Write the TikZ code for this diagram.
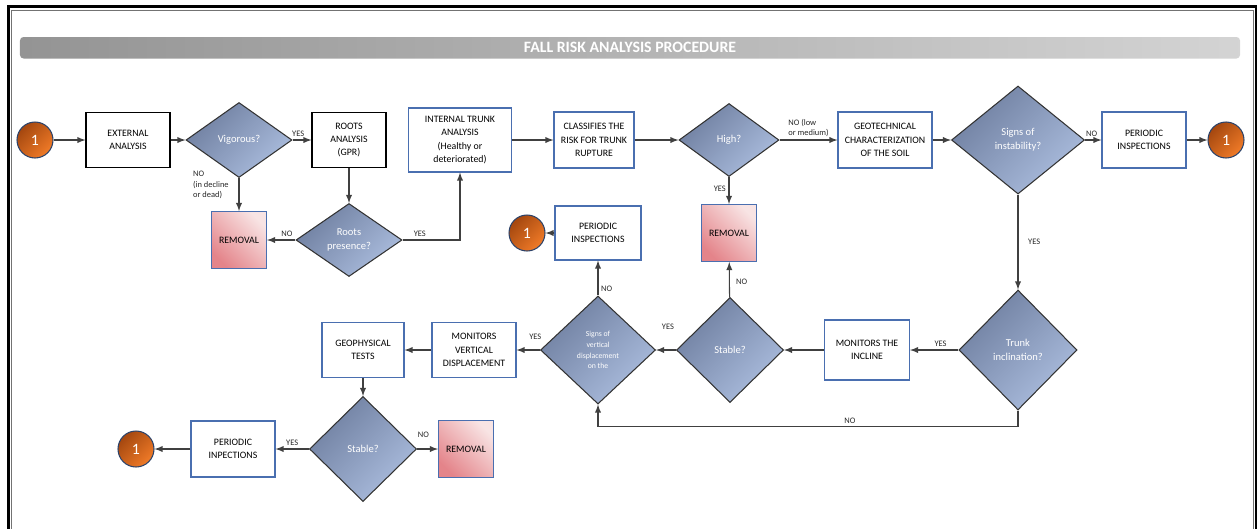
\documentclass[tikz,border=0pt]{standalone}
\usepackage{fontspec}
\setmainfont{Carlito}
\usetikzlibrary{positioning,shapes.geometric}
\usepackage{xcolor}
\definecolor{boxblue}{HTML}{4A6FB0}
\definecolor{diadark}{HTML}{6F7FA0}
\definecolor{dialight}{HTML}{ABBDDE}
\definecolor{remdark}{HTML}{E4848A}
\definecolor{remlight}{HTML}{F8E4E4}
\definecolor{orgdark}{HTML}{A4470F}
\definecolor{orglight}{HTML}{F07B28}
\definecolor{linegray}{HTML}{404040}

\begin{document}
\begin{tikzpicture}[-latex, color=linegray, line width=0.6pt,
	box/.style={rectangle, draw=boxblue, fill=white, text=black, minimum width=1.68cm, minimum height=1.1cm, align=center, inner sep=1pt, font=\fontsize{5.6}{7.6}\selectfont},
	decision/.style={diamond, draw=black!80, top color=diadark, bottom color=dialight, shading angle=45, text=white, align=center, inner sep=0pt, font=\fontsize{6}{7.8}\selectfont},
	removal/.style={rectangle, draw=boxblue, top color=remlight, bottom color=remdark, shading angle=-45, text=black, minimum width=1.1cm, minimum height=1.14cm, font=\fontsize{5.6}{7.6}\selectfont},
	onecirc/.style={circle, draw=boxblue!60!black, top color=orgdark, bottom color=orglight, shading angle=45, text=white, minimum size=0.72cm, inner sep=0pt, font=\fontsize{9}{9}\selectfont},
	lbl/.style={text=black!85, inner sep=1.5pt, font=\fontsize{4.8}{6}\selectfont}]
	\useasboundingbox (0,0) rectangle (25.2,-10.56);
	\draw[-, black, line width=1.6pt] (0.17,-11) |- (25.12,-0.13) -- (25.12,-11);
	\draw[-, black!55, line width=0.5pt] (0.235,-11) |- (25.06,-0.2) -- (25.06,-11);
	\shade[left color=black!42, right color=black!17, rounded corners=2pt] (0.4,-0.74) rectangle (24.8,-1.17);
	\node[text=white, font=\fontsize{9}{9}\selectfont\bfseries] (title) at (12.6,-0.95) {FALL RISK ANALYSIS PROCEDURE};

	\node[onecirc] (c1) at (0.7,-2.8) {1};
	\node[box, draw=black] (ext) [right of=c1, node distance=1.86cm] {EXTERNAL\\ANALYSIS};
	\node[decision, minimum width=2.12cm, minimum height=1.5cm] (vig) [right of=ext, node distance=2.22cm] {Vigorous?};
	\node[box, draw=black, minimum width=1.48cm] (roots) [right of=vig, node distance=2.2cm] {ROOTS\\ANALYSIS\\(GPR)};
	\node[box, minimum width=2.06cm, minimum height=1.28cm] (itr) [right of=roots, node distance=2.22cm] {INTERNAL TRUNK\\ANALYSIS\\(Healthy or\\deteriorated)};
	\node[box, minimum width=1.6cm, minimum height=1.12cm] (cls) [right of=itr, node distance=2.68cm] {CLASSIFIES THE\\RISK FOR TRUNK\\RUPTURE};
	\node[decision, minimum width=2cm, minimum height=1.46cm] (high) [right of=cls, node distance=2.7cm] {High?};
	\node[box, minimum width=1.88cm, minimum height=1.12cm] (geo) [right of=high, node distance=3.12cm] {GEOTECHNICAL\\CHARACTERIZATION\\OF THE SOIL};
	\node[decision, minimum width=2.66cm, minimum height=2.16cm] (sig) [right of=geo, node distance=2.66cm] {Signs of\\instability?};
	\node[box, minimum height=1.12cm] (pi1) [right of=sig, node distance=2.52cm] {PERIODIC\\INSPECTIONS};
	\node[onecirc] (c2) [right of=pi1, node distance=1.64cm] {1};

	\node[removal] (rem1) [below of=vig, node distance=2cm] {REMOVAL};
	\node[decision, minimum width=2.12cm, minimum height=1.46cm] (rp) [below of=roots, node distance=2cm] {Roots\\presence?};
	\node[removal] (rem2) [below of=high, node distance=1.86cm] {REMOVAL};
	\node[decision, minimum width=2.36cm, minimum height=2.4cm] (trunk) [below of=sig, node distance=4.2cm] {Trunk\\inclination?};
	\node[box, minimum width=1.7cm, minimum height=1.2cm] (mon) [left of=trunk, node distance=3.02cm] {MONITORS THE\\INCLINE};
	\node[decision, minimum width=2.14cm, minimum height=2.1cm] (stab1) [left of=mon, node distance=2.74cm] {Stable?};
	\node[decision, minimum width=2.3cm, minimum height=2.16cm, font=\fontsize{4.4}{6.2}\selectfont] (svd) [left of=stab1, node distance=2.64cm] {Signs of\\vertical\\displacement\\on the};
	\node[box, minimum width=1.72cm, minimum height=1.08cm] (pi2) [above of=svd, node distance=2.34cm] {PERIODIC\\INSPECTIONS};
	\node[onecirc] (c3) [left of=pi2, node distance=1.42cm] {1};
	\node[box] (mvd) [left of=svd, node distance=2.48cm] {MONITORS\\VERTICAL\\DISPLACEMENT};
	\node[box, minimum width=1.64cm] (gph) [left of=mvd, node distance=2.22cm] {GEOPHYSICAL\\TESTS};
	\node[decision, minimum width=2.14cm, minimum height=2.1cm] (stab2) [below of=gph, node distance=1.98cm] {Stable?};
	\node[box, minimum height=1.12cm] (pi3) [left of=stab2, node distance=2.6cm] {PERIODIC\\INPECTIONS};
	\node[onecirc] (c4) [left of=pi3, node distance=1.94cm] {1};
	\node[removal] (rem3) [right of=stab2, node distance=2.06cm] {REMOVAL};

	\path (c1) edge (ext);
	\path (ext) edge (vig);
	\path (vig) edge node[lbl, above, pos=0.3] {YES} (roots);
	\path (vig) edge (rem1);
	\node[lbl, align=left, anchor=north west] (vigno) at ([xshift=-0.98cm, yshift=0.2cm]vig.south) {NO\\(in decline\\or dead)};
	\path (roots) edge (rp);
	\path (rp) edge node[lbl, above, pos=0.3] {NO} (rem1);
	\draw (rp.east) -| node[lbl, above, pos=0.15] {YES} (itr.south);
	\path (itr) edge (cls);
	\path (cls) edge (high);
	\path (high) edge node[lbl, align=left, above] {NO (low\\or medium)} (geo);
	\path (high) edge node[lbl, left, pos=0.45] {YES} (rem2);
	\path (geo) edge (sig);
	\path (sig) edge node[lbl, above, pos=0.4] {NO} (pi1);
	\path (pi1) edge (c2);
	\path (sig) edge node[lbl, right=4pt] {YES} (trunk);
	\path (trunk) edge node[lbl, above, pos=0.37] {YES} (mon);
	\path (mon) edge (stab1);
	\path (stab1) edge node[lbl, right=2pt, pos=0.45] {NO} (rem2);
	\path (stab1) edge node[lbl, above=10pt, pos=0.4] {YES} (svd);
	\path (svd) edge node[lbl, right, pos=0.2] {NO} (pi2);
	\path (pi2) edge (c3);
	\path (svd) edge node[lbl, above=4pt, pos=0.2] {YES} (mvd);
	\draw (trunk.south) -- ++(0,-0.32) -| node[lbl, above, pos=0.2] {NO} (svd.south);
	\path (mvd) edge (gph);
	\path (gph) edge (stab2);
	\path (stab2) edge node[lbl, above, pos=0.5] {YES} (pi3);
	\path (stab2) edge node[lbl, above=5pt, pos=0.3] {NO} (rem3);
	\path (pi3) edge (c4);
\end{tikzpicture}
\end{document}
